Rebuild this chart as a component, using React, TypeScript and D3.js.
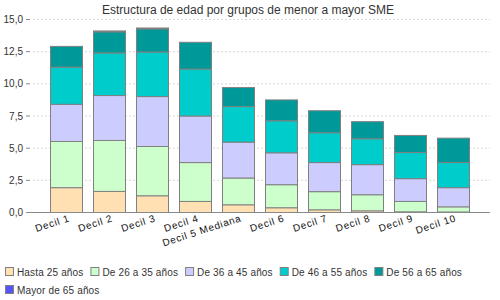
import { useRef, useEffect } from 'react';
import * as d3 from 'd3';

const CATEGORIES = ['Decil 1', 'Decil 2', 'Decil 3', 'Decil 4', 'Decil 5 Mediana', 'Decil 6', 'Decil 7', 'Decil 8', 'Decil 9', 'Decil 10'];

const SERIES = ['Hasta 25 años', 'De 26 a 35 años', 'De 36 a 45 años', 'De 46 a 55 años', 'De 56 a 65 años', 'Mayor de 65 años'];
const COLORS = ['#ffe0b2', '#ccffcc', '#ccccff', '#00cccc', '#009999', '#5555ff'];

const HASTA_25 = [1.93, 1.64, 1.30, 0.86, 0.60, 0.37, 0.21, 0.13, 0.05, 0.04];
const DE_26_35 = [3.59, 3.96, 3.83, 3.02, 2.08, 1.79, 1.41, 1.25, 0.81, 0.40];
const DE_36_45 = [2.89, 3.49, 3.88, 3.62, 2.79, 2.48, 2.26, 2.34, 1.77, 1.49];
const DE_46_55 = [2.89, 3.31, 3.46, 3.65, 2.76, 2.49, 2.32, 2.01, 2.03, 1.95];
const DE_56_65 = [1.61, 1.64, 1.80, 2.08, 1.48, 1.62, 1.71, 1.33, 1.33, 1.90];
const MAYOR_65 = [0, 0.07, 0.07, 0, 0, 0, 0, 0, 0, 0];

const Y_TICKS = [0, 2.5, 5, 7.5, 10, 12.5, 15];

const FONT = '"Liberation Sans", Arial, sans-serif';

export default function App() {
  const svgRef = useRef<SVGSVGElement>(null);

  useEffect(() => {
    const svg = d3.select(svgRef.current);
    svg.selectAll('*').remove();

    const values = [HASTA_25, DE_26_35, DE_36_45, DE_46_55, DE_56_65, MAYOR_65];
    const rows = CATEGORIES.map((c, i) => {
      const r: any = { cat: c };
      SERIES.forEach((s, j) => { r[s] = values[j][i]; });
      return r;
    });
    const stacked = d3.stack().keys(SERIES)(rows);

    const x = d3.scaleBand().domain(CATEGORIES).range([33, 486]).paddingInner(0.25).paddingOuter(0.4);
    const y = d3.scaleLinear().domain([0, 15]).range([212, 19]);

    // title
    svg.append('text')
      .attr('x', 248).attr('y', 14).attr('text-anchor', 'middle')
      .attr('font-family', FONT).attr('font-size', 12).attr('fill', '#333')
      .text('Estructura de edad por grupos de menor a mayor SME');

    // grid
    svg.append('g').selectAll('line')
      .data(Y_TICKS.filter(t => t > 0))
      .enter().append('line')
      .attr('x1', 33).attr('x2', 490)
      .attr('y1', d => y(d) + 0.5).attr('y2', d => y(d) + 0.5)
      .attr('stroke', '#d8d8d8').attr('stroke-dasharray', '2,2');

    // y axis
    const ya = svg.append('g');
    ya.selectAll('line').data(Y_TICKS).enter().append('line')
      .attr('x1', 26).attr('x2', 30)
      .attr('y1', d => y(d) + 0.5).attr('y2', d => y(d) + 0.5)
      .attr('stroke', '#888');
    ya.selectAll('text').data(Y_TICKS).enter().append('text')
      .attr('x', 23).attr('y', d => y(d) + 4).attr('text-anchor', 'end')
      .attr('font-family', FONT).attr('font-size', 10).attr('fill', '#333')
      .text(d => d3.format('.1f')(d).replace('.', ','));

    // bars
    svg.append('g').selectAll('g')
      .data(stacked)
      .enter().append('g')
      .attr('fill', (_, i) => COLORS[i])
      .selectAll('rect')
      .data(d => d.filter(p => p[1] - p[0] > 0))
      .enter().append('rect')
      .attr('x', (d: any) => Math.round(x(d.data.cat)!) + 0.5)
      .attr('width', Math.round(x.bandwidth()))
      .attr('y', d => y(d[1]) + 0.5)
      .attr('height', d => Math.max(0, y(d[0]) - y(d[1])))
      .attr('stroke', '#808080').attr('stroke-width', 1);

    // x axis line
    svg.append('line')
      .attr('x1', 26).attr('x2', 490).attr('y1', 212.5).attr('y2', 212.5)
      .attr('stroke', '#888');

    // x labels
    svg.append('g').selectAll('text')
      .data(CATEGORIES)
      .enter().append('text')
      .attr('transform', d => `translate(${x(d)! + x.bandwidth() / 2 + 4},${221}) rotate(-18)`)
      .attr('text-anchor', 'end')
      .attr('font-family', FONT).attr('font-size', 10).attr('fill', '#111')
      .attr('letter-spacing', 0.7)
      .text(d => d);

    // legend
    const lg = svg.append('g');
    let lx = 5;
    let ly = 267;
    SERIES.forEach((s, i) => {
      const item = lg.append('g');
      const t = item.append('text')
        .attr('font-family', FONT).attr('font-size', 10).attr('fill', '#333')
        .attr('letter-spacing', 0.15)
        .text(s);
      const w = (t.node() as SVGTextElement).getComputedTextLength() + 12;
      if (lx + w > 495) { lx = 5; ly += 18; }
      item.append('rect')
        .attr('x', lx + 0.5).attr('y', ly + 0.5).attr('width', 8).attr('height', 8)
        .attr('fill', COLORS[i]).attr('stroke', '#808080');
      t.attr('x', lx + 12).attr('y', ly + 8.5);
      lx += w + 7;
    });
  }, []);

  return <svg ref={svgRef} width={500} height={300} style={{ position: 'absolute', left: 0, top: 0, background: '#fff' }} />;
}
